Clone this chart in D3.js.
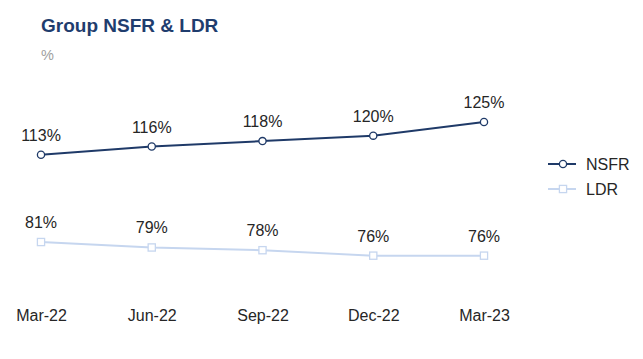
<!DOCTYPE html>
<html><head><meta charset="utf-8">
<script src="https://cdn.jsdelivr.net/npm/d3@7"></script>
<style>body{margin:0;background:#fff;}svg{display:block;font-family:"Liberation Sans",Arial,sans-serif;}</style>
</head><body>
<svg id="c" width="643" height="359"></svg>
<script>
const categories = ["Mar-22","Jun-22","Sep-22","Dec-22","Mar-23"];
const nsfr = [113,116,118,120,125];
const ldr = [81,79,78,76,76];
const seriesNames = ["NSFR","LDR"];

const svg = d3.select("#c");
const navy = "#1f3a68", light = "#c6d6ef";

const x = d3.scalePoint().domain(categories).range([41,484]);
const y = d3.scaleLinear().domain([60,140]).range([299.3,81.1]);

svg.append("text").attr("x",41).attr("y",32).attr("font-size",19).attr("font-weight","bold")
  .attr("fill","#1f3d6e").text("Group NSFR & LDR");
svg.append("text").attr("x",41).attr("y",60).attr("font-size",14.5).attr("fill","#a0a0a0").text("%");

const line = d3.line().x((d,i)=>x(categories[i])).y(d=>y(d));

function drawSeries(vals,color,shape){
  svg.append("path").datum(vals).attr("d",line).attr("fill","none").attr("stroke",color).attr("stroke-width",2);
  vals.forEach((v,i)=>{
    const cx=x(categories[i]), cy=y(v);
    if(shape==="circle"){
      svg.append("circle").attr("cx",cx).attr("cy",cy).attr("r",3.6).attr("fill","#fff").attr("stroke",color).attr("stroke-width",1.3);
    } else {
      svg.append("rect").attr("x",cx-3.6).attr("y",cy-3.6).attr("width",7.2).attr("height",7.2).attr("fill","#fff").attr("stroke",color).attr("stroke-width",1.3);
    }
    svg.append("text").attr("x",cx).attr("y",cy-14).attr("text-anchor","middle").attr("font-size",16).attr("fill","#262626").text(v+"%");
  });
}
drawSeries(nsfr,navy,"circle");
drawSeries(ldr,light,"square");

const xa = svg.append("g").attr("transform","translate(0,305)").call(d3.axisBottom(x).tickSize(0).tickPadding(0));
xa.select(".domain").remove();
xa.selectAll("text").attr("dy","16px").attr("font-size",16).attr("fill","#262626").attr("font-family","Liberation Sans, Arial, sans-serif");

// legend
const leg = [{n:seriesNames[0],c:navy,s:"circle",y:164},{n:seriesNames[1],c:light,s:"square",y:189}];
leg.forEach(l=>{
  svg.append("line").attr("x1",548).attr("x2",576).attr("y1",l.y).attr("y2",l.y).attr("stroke",l.c).attr("stroke-width",2);
  if(l.s==="circle") svg.append("circle").attr("cx",563).attr("cy",l.y).attr("r",3.6).attr("fill","#fff").attr("stroke",l.c).attr("stroke-width",1.3);
  else svg.append("rect").attr("x",559.4).attr("y",l.y-3.6).attr("width",7.2).attr("height",7.2).attr("fill","#fff").attr("stroke",l.c).attr("stroke-width",1.3);
  svg.append("text").attr("x",586).attr("y",l.y+5.5).attr("font-size",16).attr("fill","#262626").text(l.n);
});
</script>
</body></html>
